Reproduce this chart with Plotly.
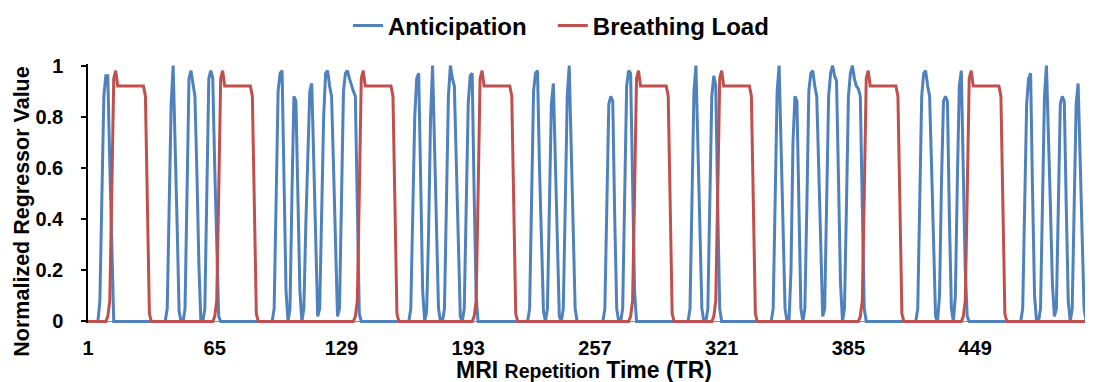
import plotly.graph_objects as go

FONT = "Liberation Sans, Arial, sans-serif"

n_tr = 508
tr = list(range(1, n_tr + 1))

tick_vals = [1, 65, 129, 193, 257, 321, 385, 449]
tick_text = ["1", "65", "129", "193", "257", "321", "385", "449"]
y_ticks = [0, 0.2, 0.4, 0.6, 0.8, 1]
y_tick_text = ["0", "0.2", "0.4", "0.6", "0.8", "1"]

# Anticipation regressor: (first TR, values); every other TR is 0
anticipation_segments = [
    (7, [0.08, 0.5, 0.88, 0.96, 0.96, 0.62, 0.28]),
    (41, [0.05, 0.42, 0.85, 1.0, 0.72, 0.38, 0.04]),
    (50, [0.05, 0.5, 0.95, 0.98, 0.93, 0.88, 0.58, 0.22]),
    (60, [0.05, 0.5, 0.95, 0.98, 0.95, 0.6, 0.25, 0.02]),
    (95, [0.05, 0.45, 0.9, 0.97, 0.98, 0.55, 0.12]),
    (103, [0.05, 0.5, 0.88, 0.86, 0.5, 0.12]),
    (110, [0.05, 0.38, 0.7, 0.9, 0.93, 0.6, 0.25, 0.02]),
    (118, [0.05, 0.4, 0.8, 0.97, 0.98, 0.92, 0.88, 0.6, 0.3, 0.02]),
    (128, [0.05, 0.45, 0.9, 0.97, 0.98, 0.95, 0.92, 0.9, 0.88, 0.45, 0.03]),
    (164, [0.05, 0.4, 0.8, 0.95, 0.97, 0.55, 0.12]),
    (172, [0.04, 0.35, 0.8, 1.0, 0.7, 0.35, 0.05]),
    (181, [0.05, 0.45, 0.88, 1.0, 0.95, 0.92, 0.6, 0.25, 0.02]),
    (191, [0.05, 0.45, 0.85, 0.96, 0.97, 0.5, 0.1]),
    (224, [0.05, 0.45, 0.9, 0.97, 0.98, 0.6, 0.28, 0.04]),
    (233, [0.05, 0.45, 0.85, 0.93, 0.6, 0.25, 0.02]),
    (241, [0.05, 0.45, 0.88, 1.0, 0.7, 0.35, 0.05]),
    (262, [0.05, 0.45, 0.85, 0.88, 0.86, 0.4, 0.05]),
    (271, [0.05, 0.5, 0.92, 0.98, 0.97, 0.55, 0.12]),
    (305, [0.05, 0.45, 0.9, 1.0, 0.7, 0.35, 0.05]),
    (314, [0.05, 0.45, 0.88, 0.96, 0.92, 0.45, 0.05]),
    (347, [0.05, 0.45, 0.9, 1.0, 0.7, 0.35, 0.05]),
    (356, [0.2, 0.7, 0.88, 0.86, 0.45, 0.05]),
    (363, [0.05, 0.45, 0.9, 0.97, 0.98, 0.92, 0.88, 0.6, 0.25, 0.02]),
    (373, [0.05, 0.45, 0.88, 0.97, 1.0, 0.96, 0.94, 0.55, 0.15]),
    (383, [0.05, 0.45, 0.88, 0.97, 1.0, 0.95, 0.92, 0.91, 0.88, 0.45, 0.05]),
    (420, [0.05, 0.45, 0.88, 0.97, 0.98, 0.92, 0.88, 0.6, 0.25, 0.02]),
    (431, [0.1, 0.55, 0.86, 0.88, 0.86, 0.4, 0.05]),
    (439, [0.1, 0.55, 0.92, 0.98, 0.6, 0.2, 0.02]),
    (473, [0.05, 0.45, 0.85, 0.95, 0.97, 0.5, 0.1]),
    (482, [0.05, 0.45, 0.88, 1.0, 0.75, 0.45, 0.15, 0.02]),
    (490, [0.05, 0.45, 0.85, 0.88, 0.86, 0.45, 0.08]),
    (498, [0.05, 0.45, 0.85, 0.93, 0.6, 0.3, 0.05]),
]

# Breathing load regressor: (first TR, values); every other TR is 0
breathing_segments = [
    (11, [0.02, 0.08, 0.5, 0.95, 0.98, 0.92, 0.92, 0.92, 0.92, 0.92, 0.92, 0.92,
          0.92, 0.92, 0.92, 0.92, 0.92, 0.92, 0.92, 0.88, 0.45, 0.03]),
    (65, [0.02, 0.08, 0.5, 0.95, 0.98, 0.92, 0.92, 0.92, 0.92, 0.92, 0.92, 0.92,
          0.92, 0.92, 0.92, 0.92, 0.92, 0.92, 0.92, 0.88, 0.45, 0.03]),
    (136, [0.02, 0.08, 0.5, 0.95, 0.98, 0.92, 0.92, 0.92, 0.92, 0.92, 0.92, 0.92,
           0.92, 0.92, 0.92, 0.92, 0.92, 0.92, 0.92, 0.88, 0.45, 0.03]),
    (196, [0.02, 0.08, 0.5, 0.95, 0.98, 0.92, 0.92, 0.92, 0.92, 0.92, 0.92, 0.92,
           0.92, 0.92, 0.92, 0.92, 0.92, 0.92, 0.92, 0.88, 0.45, 0.03]),
    (275, [0.02, 0.08, 0.5, 0.95, 0.98, 0.92, 0.92, 0.92, 0.92, 0.92, 0.92, 0.92,
           0.92, 0.92, 0.92, 0.92, 0.92, 0.92, 0.92, 0.88, 0.45, 0.03]),
    (317, [0.02, 0.08, 0.5, 0.95, 0.98, 0.92, 0.92, 0.92, 0.92, 0.92, 0.92, 0.92,
           0.92, 0.92, 0.92, 0.92, 0.92, 0.92, 0.92, 0.88, 0.45, 0.03]),
    (391, [0.02, 0.08, 0.5, 0.95, 0.98, 0.92, 0.92, 0.92, 0.92, 0.92, 0.92, 0.92,
           0.92, 0.92, 0.92, 0.92, 0.92, 0.92, 0.92, 0.88, 0.45, 0.03]),
    (443, [0.02, 0.08, 0.5, 0.95, 0.98, 0.92, 0.92, 0.92, 0.92, 0.92, 0.92, 0.92,
           0.92, 0.92, 0.92, 0.92, 0.92, 0.92, 0.92, 0.88, 0.45, 0.03]),
]


def build(segments):
    out = [0.0] * n_tr
    for start, vals in segments:
        for i, v in enumerate(vals):
            out[start - 1 + i] = v
    return out


anticipation = build(anticipation_segments)
breathing_load = build(breathing_segments)

legend_font = dict(family=FONT, size=24, color="black", weight="bold")

fig = go.Figure()
fig.add_trace(go.Scatter(x=tr, y=anticipation, mode="lines", name="Anticipation",
                         line=dict(color="#4F81BD", width=3), legend="legend"))
fig.add_trace(go.Scatter(x=tr, y=breathing_load, mode="lines", name="Breathing Load",
                         line=dict(color="#C0504D", width=3), legend="legend2"))

# the page body adds an 8px offset, so the figure is 8px smaller than the window
fig.update_layout(
    width=1085, height=374,
    margin=dict(l=80, r=1, t=56, b=59, autoexpand=False),
    paper_bgcolor="white", plot_bgcolor="white",
    font=dict(family=FONT, color="black"),
    showlegend=True,
    legend=dict(orientation="h", x=0.259, xanchor="left", y=1.147, yanchor="middle",
                font=legend_font, bgcolor="rgba(0,0,0,0)"),
    legend2=dict(orientation="h", x=0.463, xanchor="left", y=1.147, yanchor="middle",
                 font=legend_font, bgcolor="rgba(0,0,0,0)"),
    xaxis=dict(range=[1, n_tr], tickmode="array", tickvals=tick_vals, ticktext=tick_text,
               showgrid=False, showline=False, zeroline=False, ticks="",
               ticklabelstandoff=11, automargin=False,
               tickfont=dict(family=FONT, size=20, color="black", weight="bold")),
    yaxis=dict(range=[-0.006, 1.006], tickmode="array", tickvals=y_ticks, ticktext=y_tick_text,
               showgrid=False, showline=True, linecolor="black", linewidth=1.5,
               ticks="outside", ticklen=5, tickwidth=1.5, tickcolor="black",
               zeroline=True, zerolinecolor="#8c8c8c", zerolinewidth=1,
               ticklabelstandoff=14, automargin=False,
               tickfont=dict(family=FONT, size=20, color="black", weight="bold")),
    annotations=[
        dict(text="Normalized Regressor Value", textangle=-90, xref="paper", yref="paper",
             x=-0.0657, y=0.43, xanchor="center", yanchor="middle", showarrow=False,
             font=dict(family=FONT, size=21.5, color="black", weight="bold")),
        dict(text="MRI <span style='font-size:19.5px'>Repetition</span> Time (TR)",
             xref="paper", yref="paper", x=0.494, y=-0.2394, xanchor="center", yanchor="bottom",
             showarrow=False, font=dict(family=FONT, size=23, color="black", weight="bold")),
    ],
)

fig.write_html("out.html")
